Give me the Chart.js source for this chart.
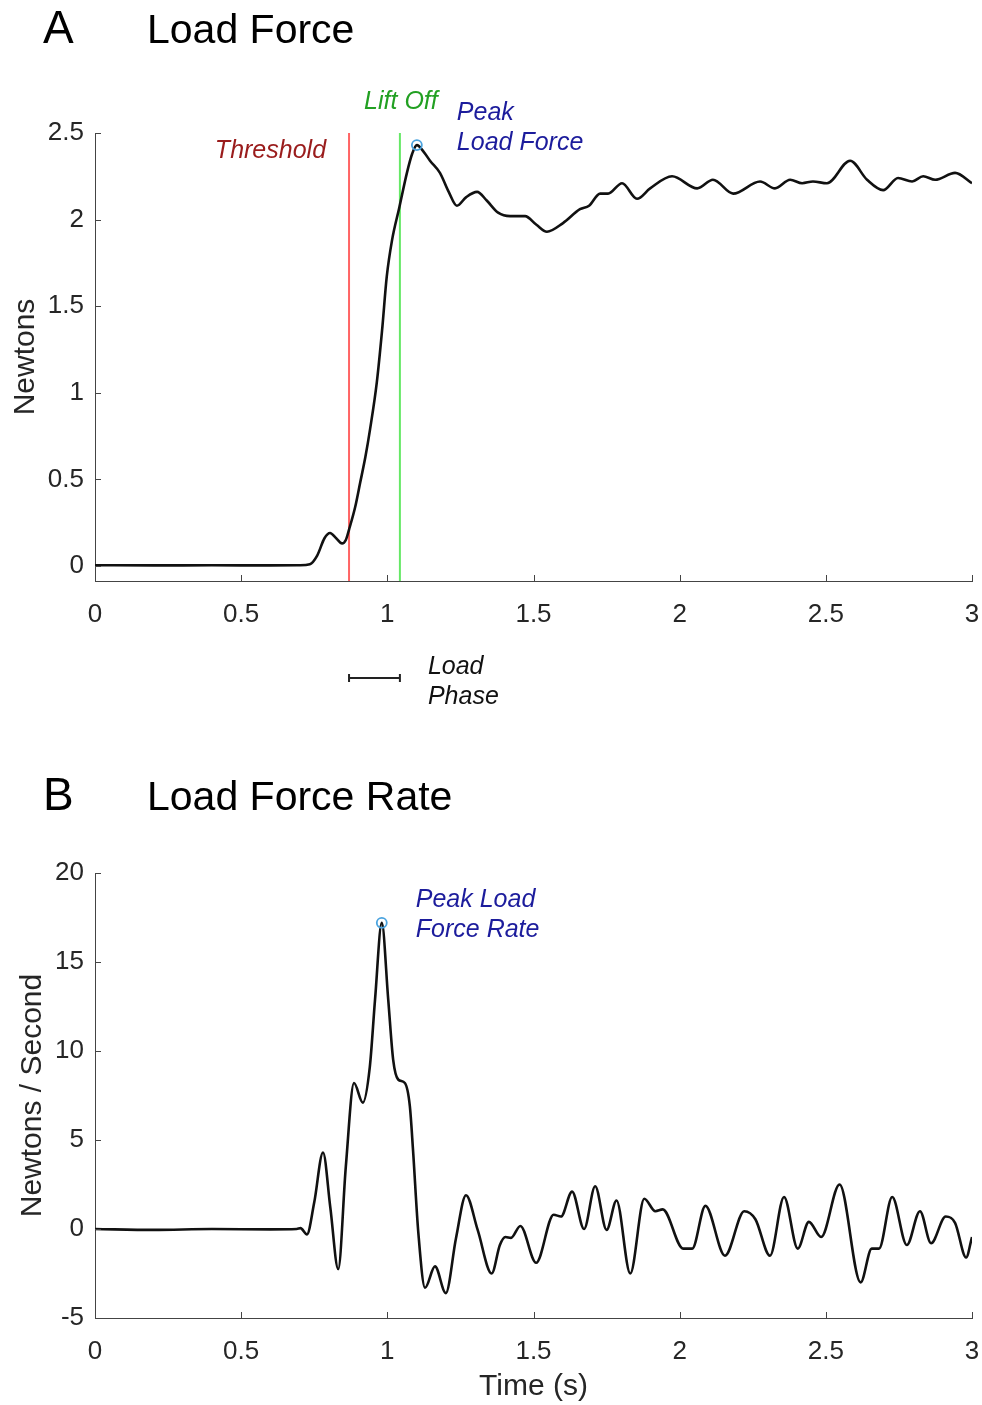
<!DOCTYPE html>
<html><head><meta charset="utf-8">
<script src="https://cdn.jsdelivr.net/npm/chart.js@4.4.1/dist/chart.umd.min.js"></script>
<style>
html,body{margin:0;padding:0;background:#fff;width:982px;height:1405px;overflow:hidden}
canvas{position:absolute;left:0}
#cA{top:0}
#cB{top:720px}
</style></head><body>
<canvas id="cA" width="982" height="720"></canvas>
<canvas id="cB" width="982" height="685"></canvas>
<script>
// ---- data ----
const timeTicks = [0, 0.5, 1, 1.5, 2, 2.5, 3];
const forceTicks = [0, 0.5, 1, 1.5, 2, 2.5];
const rateTicks = [-5, 0, 5, 10, 15, 20];

const forceTime = [0, 0.2, 0.4, 0.6, 0.70, 0.735, 0.76, 0.785, 0.804, 0.825, 0.845, 0.858, 0.869, 0.89, 0.907, 0.925, 0.941, 0.964, 0.982, 0.998, 1.016, 1.041, 1.067, 1.085, 1.101, 1.125, 1.146, 1.18, 1.21, 1.238, 1.27, 1.307, 1.34, 1.379, 1.42, 1.471, 1.51, 1.546, 1.601, 1.659, 1.69, 1.728, 1.755, 1.803, 1.854, 1.899, 1.974, 2.06, 2.114, 2.183, 2.275, 2.326, 2.378, 2.419, 2.456, 2.504, 2.583, 2.641, 2.696, 2.747, 2.795, 2.833, 2.874, 2.942, 3.0];
const forceValue = [0.004, 0.003, 0.004, 0.003, 0.004, 0.01, 0.06, 0.16, 0.19, 0.16, 0.13, 0.15, 0.21, 0.34, 0.48, 0.63, 0.79, 1.06, 1.36, 1.67, 1.88, 2.07, 2.27, 2.38, 2.43, 2.39, 2.34, 2.27, 2.16, 2.08, 2.13, 2.16, 2.11, 2.04, 2.02, 2.02, 1.97, 1.93, 1.98, 2.06, 2.08, 2.15, 2.15, 2.21, 2.12, 2.18, 2.25, 2.18, 2.23, 2.15, 2.22, 2.18, 2.23, 2.21, 2.22, 2.21, 2.34, 2.23, 2.17, 2.24, 2.22, 2.25, 2.23, 2.27, 2.21];

const rateTime = [0, 0.2, 0.4, 0.6, 0.69, 0.703, 0.725, 0.75, 0.78, 0.805, 0.832, 0.858, 0.886, 0.916, 0.94, 0.958, 0.981, 1.003, 1.02, 1.037, 1.06, 1.077, 1.088, 1.106, 1.129, 1.163, 1.2, 1.235, 1.269, 1.309, 1.357, 1.385, 1.404, 1.423, 1.455, 1.509, 1.569, 1.594, 1.632, 1.673, 1.711, 1.75, 1.784, 1.831, 1.879, 1.917, 1.942, 2.012, 2.043, 2.088, 2.155, 2.221, 2.259, 2.309, 2.357, 2.404, 2.442, 2.484, 2.547, 2.619, 2.657, 2.682, 2.727, 2.777, 2.822, 2.86, 2.91, 2.942, 2.98, 3.0];
const rateValue = [0.0, -0.05, 0.0, -0.02, 0.0, 0.05, -0.3, 1.5, 4.3, 1.2, -2.25, 3.5, 8.2, 7.1, 9.1, 12.9, 17.2, 12.9, 9.5, 8.4, 8.2, 6.9, 4.4, -0.2, -3.3, -2.1, -3.6, -0.5, 1.9, -0.05, -2.5, -0.9, -0.45, -0.5, 0.17, -1.9, 0.8, 0.7, 2.1, 0.0, 2.4, -0.05, 1.6, -2.5, 1.7, 1.0, 1.1, -1.1, -1.1, 1.3, -1.5, 1.0, 0.55, -1.5, 1.8, -1.1, 0.4, -0.45, 2.5, -3.0, -1.1, -1.1, 1.8, -0.9, 1.0, -0.8, 0.7, 0.35, -1.6, -0.45];

const eventLabels = ['Threshold', 'Lift Off'];
const eventTimes = [0.869, 1.043];
const peakForceTime = [1.101];
const peakForceValue = [2.43];
const peakRateTime = [0.981];
const peakRateValue = [17.2];

// ---- style ----
const FONT = '"Liberation Sans", Arial, Helvetica, sans-serif';
const AXIS = '#444444';
const TXT = '#262626';
const NAVY = '#1c1c9c';

function pts(xs, ys) { return xs.map((x, i) => ({x: x, y: ys[i]})); }

function inwardTicks(xVals, yVals) {
  return {
    id: 'inwardTicks',
    afterDatasetsDraw(chart) {
      const {ctx, chartArea: a, scales: {x, y}} = chart;
      ctx.save();
      ctx.strokeStyle = AXIS; ctx.lineWidth = 1;
      ctx.beginPath();
      xVals.forEach(v => { const p = Math.round(x.getPixelForValue(v)) + 0.5; ctx.moveTo(p, a.bottom); ctx.lineTo(p, a.bottom - 6); });
      yVals.forEach(v => { const p = Math.round(y.getPixelForValue(v)) + 0.5; ctx.moveTo(a.left, p); ctx.lineTo(a.left + 6, p); });
      ctx.stroke();
      ctx.restore();
    }
  };
}

function baseOptions(yMin, yMax, yTicks, yTitle, yTitlePad, padTop, xHeight, showXTitle) {
  return {
    responsive: false,
    animation: false,
    events: [],
    layout: {padding: {top: padTop, right: 10, left: 0, bottom: 0}},
    plugins: {legend: {display: false}, tooltip: {enabled: false}},
    elements: {point: {radius: 0}},
    scales: {
      x: {
        type: 'linear', min: 0, max: 3,
        afterBuildTicks: s => { s.ticks = timeTicks.map(v => ({value: v})); },
        afterFit: s => { s.height = xHeight; s.paddingLeft = 0; s.paddingRight = 0; },
        grid: {display: false, drawTicks: false},
        border: {display: true, color: AXIS, width: 1},
        ticks: {color: TXT, font: {family: FONT, size: 26}, padding: 18, maxRotation: 0, autoSkip: false,
                callback: v => String(v)},
        title: {display: showXTitle, text: 'Time (s)', color: TXT, font: {family: FONT, size: 30}, padding: {top: 0, bottom: 0}}
      },
      y: {
        type: 'linear', min: yMin, max: yMax,
        afterBuildTicks: s => { s.ticks = yTicks.map(v => ({value: v})); },
        afterFit: s => { s.width = 95; s.paddingTop = 0; s.paddingBottom = 0; },
        grid: {display: false, drawTicks: false},
        border: {display: true, color: AXIS, width: 1},
        ticks: {color: TXT, font: {family: FONT, size: 26}, padding: 11, callback: v => String(v)},
        title: {display: true, text: yTitle, color: TXT, font: {family: FONT, size: 30}, padding: {top: yTitlePad, bottom: 0}}
      }
    }
  };
}

// ---- Chart A ----
const yMinA = -0.087, yMaxA = 2.5;
const annoA = {
  id: 'annoA',
  afterDraw(chart) {
    const {ctx, scales: {x, y}, chartArea: a} = chart;
    ctx.save();
    ctx.fillStyle = '#000';
    ctx.textBaseline = 'alphabetic';
    ctx.font = '46px ' + FONT; ctx.fillText('A', 43, 43);
    ctx.font = '41px ' + FONT; ctx.fillText('Load Force', 147, 43);
    const xT = x.getPixelForValue(eventTimes[0]);
    const xL = x.getPixelForValue(eventTimes[1]);
    ctx.font = 'italic 25px ' + FONT;
    ctx.fillStyle = '#9a1c1c'; ctx.textAlign = 'right';
    ctx.fillText(eventLabels[0], xT - 23, 158);
    ctx.fillStyle = '#22a022'; ctx.textAlign = 'center';
    ctx.fillText(eventLabels[1], xL + 1, 109);
    ctx.fillStyle = NAVY; ctx.textAlign = 'left';
    const xp = x.getPixelForValue(peakForceTime[0]);
    ctx.fillText('Peak', xp + 40, 120);
    ctx.fillText('Load Force', xp + 40, 150);
    // Load phase bar
    ctx.strokeStyle = '#222'; ctx.lineWidth = 2;
    ctx.beginPath();
    ctx.moveTo(xT, 678); ctx.lineTo(xL, 678);
    ctx.moveTo(xT, 674); ctx.lineTo(xT, 682);
    ctx.moveTo(xL, 674); ctx.lineTo(xL, 682);
    ctx.stroke();
    ctx.fillStyle = '#111';
    ctx.fillText('Load', xL + 28, 674);
    ctx.fillText('Phase', xL + 28, 704);
    ctx.restore();
  }
};

new Chart(document.getElementById('cA'), {
  type: 'line',
  data: {
    datasets: [
      {data: pts([eventTimes[0], eventTimes[0]], [yMinA, yMaxA]), borderColor: '#ff6464', borderWidth: 2, tension: 0, order: 3},
      {data: pts([eventTimes[1], eventTimes[1]], [yMinA, yMaxA]), borderColor: '#66e866', borderWidth: 2, tension: 0, order: 3},
      {data: pts(forceTime, forceValue), borderColor: '#111111', borderWidth: 2.6, cubicInterpolationMode: 'monotone', order: 2},
      {data: pts(peakForceTime, peakForceValue), showLine: false, pointRadius: 5, pointBorderWidth: 1.8, pointBorderColor: '#4aa3df', pointBackgroundColor: 'rgba(0,0,0,0)', order: 1}
    ]
  },
  options: baseOptions(yMinA, yMaxA, forceTicks, 'Newtons', 8, 133, 139, false),
  plugins: [inwardTicks(timeTicks, forceTicks), annoA]
});

// ---- Chart B ----
const annoB = {
  id: 'annoB',
  afterDraw(chart) {
    const {ctx, scales: {x, y}} = chart;
    const off = 720;
    ctx.save();
    ctx.fillStyle = '#000';
    ctx.textBaseline = 'alphabetic';
    ctx.font = '46px ' + FONT; ctx.fillText('B', 43, 810 - off);
    ctx.font = '41px ' + FONT; ctx.fillText('Load Force Rate', 147, 810 - off);
    ctx.font = 'italic 25px ' + FONT;
    ctx.fillStyle = NAVY;
    const xp = x.getPixelForValue(peakRateTime[0]);
    ctx.fillText('Peak Load', xp + 34, 907 - off);
    ctx.fillText('Force Rate', xp + 34, 937 - off);
    ctx.restore();
  }
};

new Chart(document.getElementById('cB'), {
  type: 'line',
  data: {
    datasets: [
      {data: pts(rateTime, rateValue), borderColor: '#111111', borderWidth: 2.6, cubicInterpolationMode: 'monotone', order: 2},
      {data: pts(peakRateTime, peakRateValue), showLine: false, pointRadius: 5, pointBorderWidth: 1.8, pointBorderColor: '#4aa3df', pointBackgroundColor: 'rgba(0,0,0,0)', order: 1}
    ]
  },
  options: baseOptions(-5, 20, rateTicks, 'Newtons / Second', 15, 153, 87, true),
  plugins: [inwardTicks(timeTicks, rateTicks), annoB]
});
</script>
</body></html>
